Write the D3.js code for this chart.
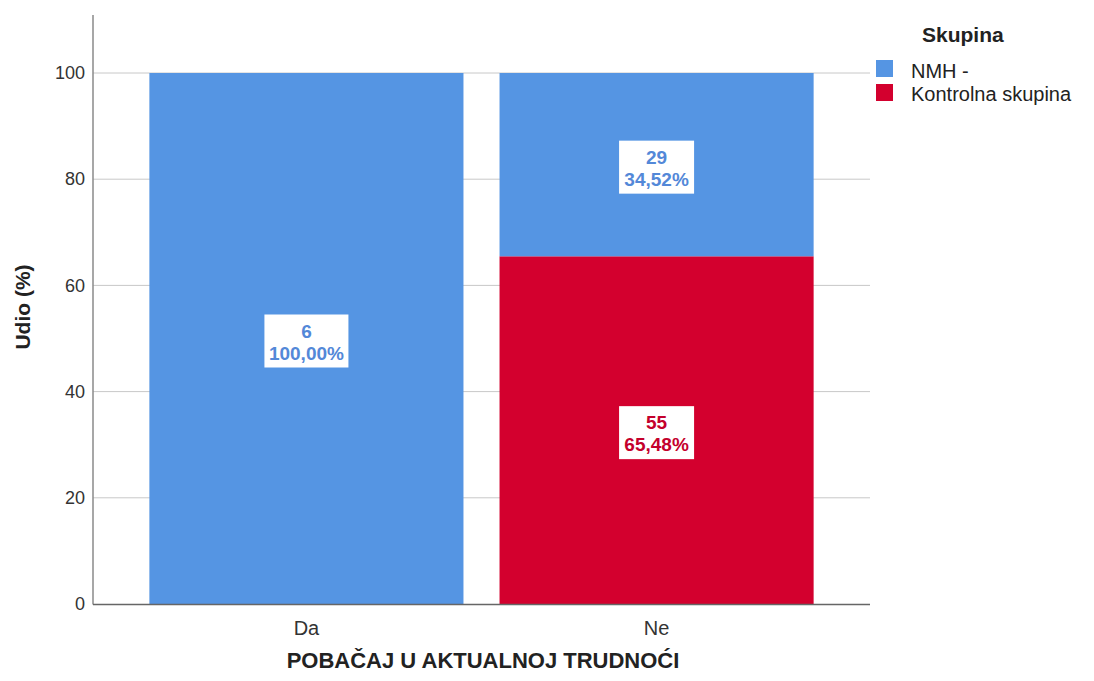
<!DOCTYPE html>
<html>
<head>
<meta charset="utf-8">
<script src="https://d3js.org/d3.v7.min.js"></script>
<style>
  body { margin: 0; background: #fff; }
  svg text { font-family: "Liberation Sans", Arial, sans-serif; }
</style>
</head>
<body>
<svg id="chart" width="1094" height="681"></svg>
<script>
// DATA
var categories = ["Da", "Ne"];
var groups = ["NMH -", "Kontrolna skupina"];
var nmhCounts = [6, 29];
var kontrolCounts = [0, 55];
var nmhPct = [100.00, 34.52];
var kontrolPct = [0, 65.48];
var yTicks = [0, 20, 40, 60, 80, 100];

var colors = { "NMH -": "#5595e3", "Kontrolna skupina": "#d3002e" };
var labelColors = { "NMH -": "#5388d8", "Kontrolna skupina": "#c4002c" };

var svg = d3.select("#chart");

// scales
var x = d3.scaleBand()
    .domain(categories)
    .range([93, 870])
    .paddingInner(0.103)
    .paddingOuter(0.161);

var y = d3.scaleLinear()
    .domain([0, 100])
    .range([604, 73]);

// gridlines
svg.append("g")
    .selectAll("line")
    .data(yTicks.slice(1))
    .join("line")
    .attr("x1", 93).attr("x2", 870)
    .attr("y1", function (d) { return y(d); })
    .attr("y2", function (d) { return y(d); })
    .attr("stroke", "#c8c8c8")
    .attr("stroke-width", 1);

// stacked segments: red at bottom, blue on top
var segments = [];
categories.forEach(function (c, i) {
    var base = 0;
    if (kontrolCounts[i] > 0) {
        segments.push({ cat: c, group: groups[1], y0: base, y1: base + kontrolPct[i], n: kontrolCounts[i], p: kontrolPct[i] });
        base += kontrolPct[i];
    }
    if (nmhCounts[i] > 0) {
        segments.push({ cat: c, group: groups[0], y0: base, y1: base + nmhPct[i], n: nmhCounts[i], p: nmhPct[i] });
    }
});

svg.append("g")
    .selectAll("rect")
    .data(segments)
    .join("rect")
    .attr("x", function (d) { return x(d.cat); })
    .attr("width", x.bandwidth())
    .attr("y", function (d) { return y(d.y1); })
    .attr("height", function (d) { return y(d.y0) - y(d.y1); })
    .attr("fill", function (d) { return colors[d.group]; });

// axes
var yAxis = svg.append("g")
    .attr("transform", "translate(93,0)")
    .call(d3.axisLeft(y).tickValues(yTicks).tickSize(0).tickPadding(8));
yAxis.select(".domain").remove();
yAxis.selectAll("text")
    .attr("font-size", 18)
    .attr("fill", "#333");

svg.append("line")
    .attr("x1", 93).attr("x2", 93)
    .attr("y1", 15).attr("y2", 604.5)
    .attr("stroke", "#8a8a8a").attr("stroke-width", 1.5);

var xAxis = svg.append("g")
    .attr("transform", "translate(0,604)")
    .call(d3.axisBottom(x).tickSize(0).tickPadding(0));
xAxis.select(".domain").remove();
xAxis.selectAll("text")
    .attr("dy", null)
    .attr("y", 31)
    .attr("font-size", 20)
    .attr("fill", "#333");

svg.append("line")
    .attr("x1", 93).attr("x2", 870)
    .attr("y1", 604.5).attr("y2", 604.5)
    .attr("stroke", "#666").attr("stroke-width", 1.5);

// data labels
var lbl = svg.append("g")
    .selectAll("g")
    .data(segments)
    .join("g")
    .attr("transform", function (d) {
        return "translate(" + (x(d.cat) + x.bandwidth() / 2) + "," + y((d.y0 + d.y1) / 2) + ")";
    });

lbl.append("rect")
    .attr("x", function (d) { return d.p === 100 ? -42 : -37.5; })
    .attr("width", function (d) { return d.p === 100 ? 84 : 75; })
    .attr("y", -24)
    .attr("height", 53)
    .attr("fill", "#fff");

lbl.append("text")
    .attr("text-anchor", "middle")
    .attr("y", -1)
    .attr("font-size", 19)
    .attr("font-weight", "bold")
    .attr("fill", function (d) { return labelColors[d.group]; })
    .text(function (d) { return d.n; });

lbl.append("text")
    .attr("text-anchor", "middle")
    .attr("y", 21)
    .attr("font-size", 19)
    .attr("font-weight", "bold")
    .attr("fill", function (d) { return labelColors[d.group]; })
    .text(function (d) { return d.p.toFixed(2).replace(".", ",") + "%"; });

// axis titles
svg.append("text")
    .attr("transform", "translate(30,307) rotate(-90)")
    .attr("text-anchor", "middle")
    .attr("font-size", 21)
    .attr("font-weight", "bold")
    .attr("fill", "#222")
    .text("Udio (%)");

svg.append("text")
    .attr("x", 483)
    .attr("y", 668)
    .attr("text-anchor", "middle")
    .attr("font-size", 22)
    .attr("font-weight", "bold")
    .attr("fill", "#222")
    .text("POBAČAJ U AKTUALNOJ TRUDNOĆI");

// legend
var legend = svg.append("g");
legend.append("text")
    .attr("x", 922).attr("y", 42)
    .attr("font-size", 21)
    .attr("font-weight", "bold")
    .attr("fill", "#222")
    .text("Skupina");

var items = legend.selectAll("g.item")
    .data(groups)
    .join("g")
    .attr("class", "item");

items.append("rect")
    .attr("x", 876)
    .attr("y", function (d, i) { return 60 + i * 24; })
    .attr("width", 17).attr("height", 17)
    .attr("fill", function (d) { return colors[d]; });

items.append("text")
    .attr("x", 911)
    .attr("y", function (d, i) { return 78 + i * 23; })
    .attr("font-size", 20)
    .attr("fill", "#222")
    .text(function (d) { return d; });
</script>
</body>
</html>
